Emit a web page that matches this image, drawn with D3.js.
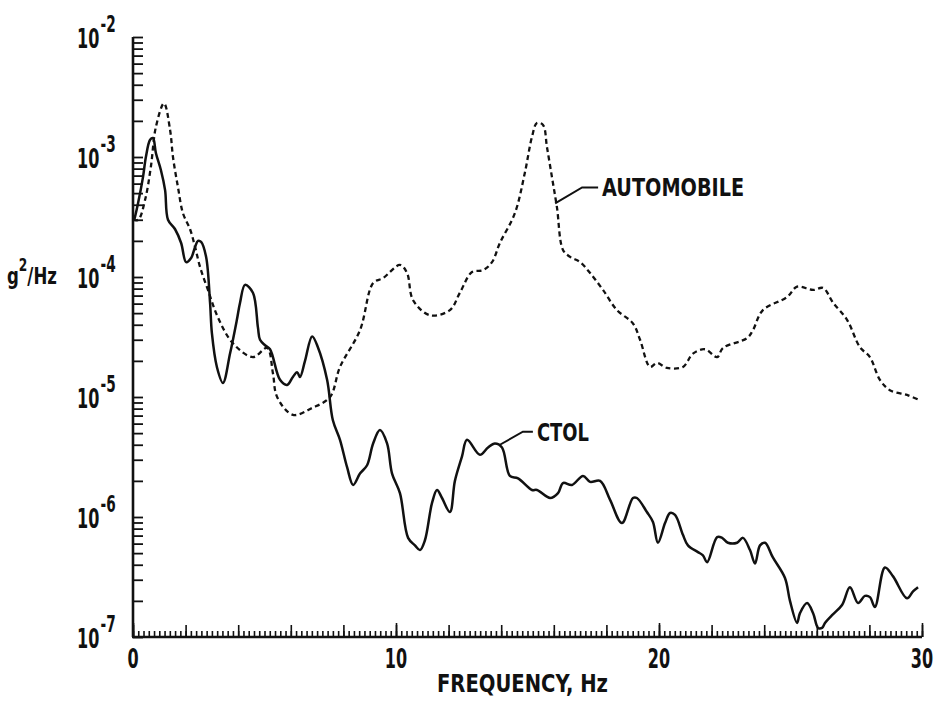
<!DOCTYPE html>
<html>
<head>
<meta charset="utf-8" />
<title>PSD - automobile vs CTOL</title>
<style>
body { margin: 0; background: #fff; }
#graph { width: 939px; height: 701px; }
text {
    font-family: "Liberation Sans Narrow", "DejaVu Sans Condensed", "Liberation Sans", sans-serif;
    font-weight: bold;
    fill: #111;
}
</style>
</head>
<body>
<div id="graph"></div>

<script src="https://d3js.org/d3.v7.min.js"></script>
<script>
// automobile ride, dashed curve
var autoFreq = [0, 0.2, 0.46, 0.68, 0.87, 1.18, 1.41, 1.52, 1.71, 1.9, 2.17, 2.36, 2.55, 2.85, 3.23,
    3.8, 4.56, 5.1, 5.32, 5.48, 6.08, 6.81, 7.49, 7.87, 8.63, 9.13, 9.51, 10.15, 10.42, 10.65,
    11.29, 12.05, 12.43, 12.89, 13.31, 13.65, 13.95, 14.52, 14.9, 15.17, 15.36, 15.59, 15.74,
    15.93, 16.12, 16.35, 16.62, 17.0, 17.38, 17.87, 18.4, 19.01, 19.28, 19.66, 19.92, 20.3,
    20.91, 21.29, 21.75, 22.21, 22.43, 23.35, 23.57, 23.95, 24.87, 25.25, 25.86, 26.24, 26.62,
    27.15, 27.64, 28.02, 28.4, 28.78, 29.43, 29.92];
var autoPsd = [3.0e-4, 3.0e-4, 4.4e-4, 8.3e-4, 1.78e-3, 2.8e-3, 1.68e-3, 1.0e-3, 5.6e-4, 3.4e-4,
    2.5e-4, 1.78e-4, 1.21e-4, 7.8e-5, 4.6e-5, 2.8e-5, 2.15e-5, 2.56e-5, 1.58e-5, 1.0e-5,
    7.1e-6, 8.1e-6, 1.0e-5, 1.78e-5, 3.6e-5, 8.9e-5, 9.8e-5, 1.26e-4, 1.08e-4, 6.4e-5,
    4.8e-5, 5.3e-5, 7.4e-5, 1.10e-4, 1.14e-4, 1.33e-4, 1.92e-4, 3.4e-4, 7.4e-4, 1.47e-3,
    1.92e-3, 1.85e-3, 1.21e-3, 6.8e-4, 3.8e-4, 1.68e-4, 1.47e-4, 1.33e-4, 1.08e-4, 7.8e-5,
    5.3e-5, 4.1e-5, 3.0e-5, 1.78e-5, 1.92e-5, 1.75e-5, 1.78e-5, 2.3e-5, 2.5e-5, 2.15e-5,
    2.56e-5, 3.1e-5, 3.6e-5, 5.3e-5, 6.8e-5, 8.3e-5, 7.8e-5, 8.1e-5, 6.1e-5, 4.4e-5,
    2.6e-5, 2.15e-5, 1.39e-5, 1.14e-5, 1.04e-5, 9.4e-6];

// CTOL aircraft, solid curve
var ctolFreq = [0.05, 0.19, 0.38, 0.49, 0.65, 0.76, 0.87, 1.06, 1.22, 1.33, 1.6, 1.83, 2.02, 2.21,
    2.36, 2.47, 2.59, 2.78, 2.93, 3.0, 3.19, 3.42, 3.69, 3.95, 4.07, 4.26, 4.56, 4.75, 4.83,
    5.02, 5.21, 5.59, 5.86, 6.08, 6.24, 6.35, 6.54, 6.81, 7.03, 7.38, 7.6, 7.87, 8.14, 8.37,
    8.63, 8.9, 9.13, 9.39, 9.66, 9.85, 10.15, 10.46, 10.72, 10.91, 11.1, 11.37, 11.56, 11.75,
    12.05, 12.24, 12.51, 12.7, 13.19, 13.5, 13.76, 14.03, 14.33, 14.64, 15.17, 15.36, 15.86,
    16.16, 16.35, 16.69, 17.11, 17.38, 17.76, 18.14, 18.59, 19.01, 19.16, 19.54, 19.77, 19.96,
    20.23, 20.42, 20.61, 20.91, 21.1, 21.48, 21.67, 21.83, 22.21, 22.4, 22.62, 22.97, 23.19,
    23.46, 23.65, 23.84, 24.03, 24.33, 24.79, 24.98, 25.25, 25.36, 25.63, 25.86, 26.05, 26.2,
    26.31, 26.58, 26.96, 27.26, 27.57, 27.83, 28.02, 28.21, 28.59, 28.9, 29.43, 29.66, 29.85];
var ctolPsd = [3.0e-4, 4.1e-4, 6.8e-4, 1.0e-3, 1.39e-3, 1.44e-3, 1.08e-3, 7.8e-4, 5.3e-4, 3.0e-4,
    2.5e-4, 1.92e-4, 1.33e-4, 1.44e-4, 1.78e-4, 2.0e-4, 1.96e-4, 1.47e-4, 6.1e-5, 3.4e-5,
    1.78e-5, 1.31e-5, 2.3e-5, 4.4e-5, 6.1e-5, 8.6e-5, 7.4e-5, 3.8e-5, 3.0e-5, 2.7e-5,
    2.5e-5, 1.39e-5, 1.26e-5, 1.47e-5, 1.61e-5, 1.47e-5, 2.0e-5, 3.2e-5, 2.6e-5, 1.39e-5,
    6.4e-6, 4.4e-6, 2.6e-6, 1.85e-6, 2.3e-6, 2.7e-6, 4.1e-6, 5.3e-6, 4.1e-6, 2.3e-6,
    1.58e-6, 6.7e-7, 5.8e-7, 5.3e-7, 6.4e-7, 1.31e-6, 1.68e-6, 1.44e-6, 1.10e-6, 2.0e-6,
    3.2e-6, 4.4e-6, 3.3e-6, 3.8e-6, 4.1e-6, 3.8e-6, 2.2e-6, 2.1e-6, 1.68e-6, 1.68e-6,
    1.44e-6, 1.58e-6, 1.92e-6, 1.85e-6, 2.2e-6, 1.96e-6, 2.0e-6, 1.39e-6, 8.9e-7, 1.44e-6,
    1.44e-6, 1.10e-6, 9.1e-7, 6.1e-7, 8.9e-7, 1.08e-6, 1.04e-6, 7.1e-7, 5.8e-7, 5.1e-7,
    4.8e-7, 4.2e-7, 6.8e-7, 6.7e-7, 6.1e-7, 6.1e-7, 6.7e-7, 5.3e-7, 4.1e-7, 5.8e-7,
    6.1e-7, 4.6e-7, 3.1e-7, 2.0e-7, 1.31e-7, 1.58e-7, 1.92e-7, 1.58e-7, 1.19e-7, 1.19e-7,
    1.31e-7, 1.52e-7, 1.85e-7, 2.6e-7, 1.92e-7, 2.2e-7, 2.15e-7, 1.78e-7, 3.8e-7, 3.2e-7,
    2.1e-7, 2.4e-7, 2.6e-7];

var xTickLabels = [0, 10, 20, 30];
var yDecades = [-2, -3, -4, -5, -6, -7];

!(function(){
    "use strict"

    var width = 939, height = 701;
    var margin = {top: 37, left: 133, bottom: 64, right: 17};
    var squeeze = 0.66;   // narrow the bold face to look like the condensed original
    var svg = d3.select("#graph").append("svg")
        .attr("width", width).attr("height", height);
    var axisLayer = svg.append("g").classed("axisLayer", true);
    var chartLayer = svg.append("g").classed("chartLayer", true);

    var xScale = d3.scaleLinear().domain([0, 30]).range([margin.left, width - margin.right]);
    var yScale = d3.scaleLog().domain([1e-7, 1e-2]).range([height - margin.bottom, margin.top]);

    var autoData = autoFreq.map(function(f, i){ return {f: f, v: autoPsd[i]} });
    var ctolData = ctolFreq.map(function(f, i){ return {f: f, v: ctolPsd[i]} });

    drawAxis();
    drawChart();
    drawLabels();

    function drawAxis() {
        var y0 = yScale(1e-7);

        // x ticks point up into the plot: 0.2 Hz, 2 Hz, 10 Hz
        var minor = d3.range(0, 30.01, 0.2);
        var mid = d3.range(0, 30.01, 2);
        [[minor, 6], [mid, 12], [xTickLabels, 14]].forEach(function(t){
            axisLayer.append("g")
                .attr("transform", "translate(0," + y0 + ")")
                .call(d3.axisTop(xScale).tickValues(t[0]).tickSize(t[1]).tickFormat(""))
                .call(function(g){ g.select(".domain").remove() })
                .selectAll("line").attr("stroke", "#111").attr("stroke-width", 1.6);
        });

        // y ticks point right, log minor ticks
        var yTicks = [];
        for (var e = -7; e < -2; e++) {
            for (var m = 1; m < 10; m++) yTicks.push(m * Math.pow(10, e));
        }
        yTicks.push(1e-2);
        axisLayer.append("g")
            .attr("transform", "translate(" + xScale(0) + ",0)")
            .call(d3.axisRight(yScale).tickValues(yTicks).tickSize(10).tickFormat(""))
            .call(function(g){ g.select(".domain").remove() })
            .selectAll("line").attr("stroke", "#111").attr("stroke-width", 1.8);

        // axis lines
        axisLayer.append("line")
            .attr("x1", xScale(0)).attr("x2", xScale(0))
            .attr("y1", yScale(1e-2)).attr("y2", y0)
            .attr("stroke", "#111").attr("stroke-width", 2.6);
        axisLayer.append("line")
            .attr("x1", xScale(0) - 1).attr("x2", xScale(30))
            .attr("y1", y0).attr("y2", y0)
            .attr("stroke", "#111").attr("stroke-width", 2.6);

        // tick labels
        axisLayer.selectAll(".xlab").data(xTickLabels).enter().append("g")
            .attr("class", "xlab")
            .attr("transform", function(d){
                return "translate(" + xScale(d) + "," + (y0 + 31) + ") scale(" + squeeze + ",1)";
            })
            .append("text")
            .attr("text-anchor", "middle")
            .style("font-size", "27px")
            .text(function(d){ return d });

        var yl = axisLayer.selectAll(".ylab").data(yDecades).enter().append("g")
            .attr("class", "ylab")
            .attr("transform", function(d){
                return "translate(77," + (yScale(Math.pow(10, d)) + 11) + ") scale(" + squeeze + ",1)";
            })
            .append("text")
            .style("font-size", "27px")
            .text("10");
        yl.append("tspan")
            .attr("dx", 2).attr("dy", -16)
            .style("font-size", "23px")
            .text(function(d){ return "-" + (-d) });
    }

    function drawChart() {
        var line = d3.line()
            .x(function(d){ return xScale(d.f) })
            .y(function(d){ return yScale(d.v) })
            .curve(d3.curveCatmullRom.alpha(0.5));

        chartLayer.append("path")
            .datum(autoData)
            .attr("d", line)
            .attr("fill", "none")
            .attr("stroke", "#111")
            .attr("stroke-width", 2.3)
            .attr("stroke-dasharray", "5,3.5");

        chartLayer.append("path")
            .datum(ctolData)
            .attr("d", line)
            .attr("fill", "none")
            .attr("stroke", "#111")
            .attr("stroke-width", 2.5)
            .attr("stroke-linejoin", "round");
    }

    function drawLabels() {
        // axis titles
        svg.append("text")
            .attr("x", xScale(15) - 5).attr("y", 692)
            .attr("text-anchor", "middle")
            .attr("textLength", 171).attr("lengthAdjust", "spacingAndGlyphs")
            .style("font-size", "24px")
            .text("FREQUENCY, Hz");

        var yt = svg.append("g")
            .attr("transform", "translate(7,284) scale(0.8,1)")
            .append("text")
            .style("font-size", "23px");
        yt.append("tspan").text("g");
        yt.append("tspan").attr("dy", -13).style("font-size", "17px").text("2");
        yt.append("tspan").attr("dy", 13).text("/Hz");

        // leader lines to curve names
        var notes = [
            {f: 16.05, v: 4.1e-4, name: "AUTOMOBILE", dx: 27, dy: -16, len: 16, w: 142},
            {f: 13.95, v: 4.0e-6, name: "CTOL", dx: 23, dy: -13, len: 10, w: 52}
        ];
        notes.forEach(function(n){
            var ax = xScale(n.f), ay = yScale(n.v);
            svg.append("path")
                .attr("d", "M" + ax + "," + ay + "L" + (ax + n.dx) + "," + (ay + n.dy) + "h" + n.len)
                .attr("fill", "none").attr("stroke", "#111").attr("stroke-width", 2);
            svg.append("text")
                .attr("x", ax + n.dx + n.len + 4)
                .attr("y", ay + n.dy + 9)
                .attr("textLength", n.w).attr("lengthAdjust", "spacingAndGlyphs")
                .style("font-size", "24px")
                .text(n.name);
        });
    }
}());
</script>
</body>
</html>
